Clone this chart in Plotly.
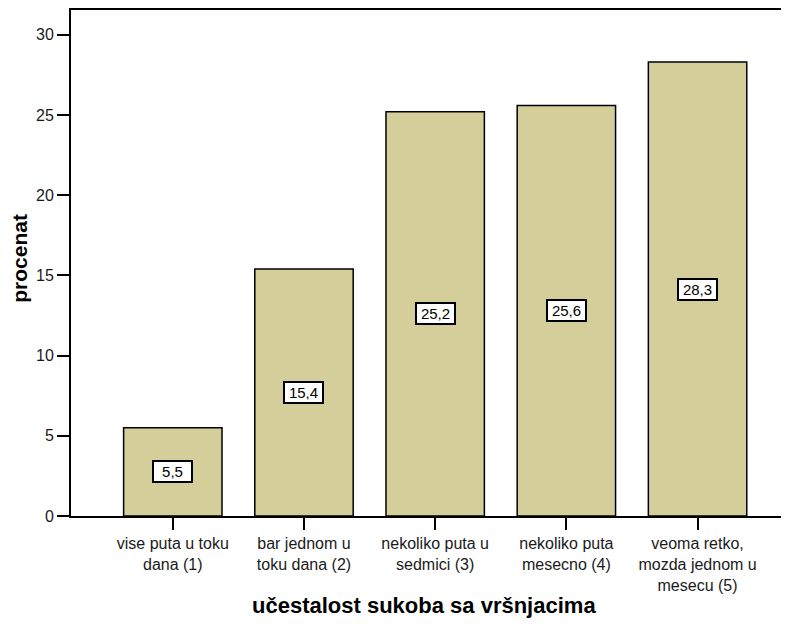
import plotly.graph_objects as go

categories = [
    "vise puta u toku<br>dana (1)",
    "bar jednom u<br>toku dana (2)",
    "nekoliko puta u<br>sedmici (3)",
    "nekoliko puta<br>mesecno (4)",
    "veoma retko,<br>mozda jednom u<br>mesecu (5)",
]
values = [5.5, 15.4, 25.2, 25.6, 28.3]
value_labels = ["5,5", "15,4", "25,2", "25,6", "28,3"]
y_ticks = [0, 5, 10, 15, 20, 25, 30]

x_idx = list(range(len(categories)))
BAR = "#D3CE9A"
FONT = "Liberation Sans, Arial, sans-serif"

# page body has an 8px default margin; figure is sized/offset to compensate
W, H = 781, 616
ML, MT, MR, MB = 63, 0, 0, 107.5

fig = go.Figure()
fig.add_trace(go.Bar(
    x=x_idx, y=values,
    marker=dict(color=BAR, line=dict(color="black", width=1.5)),
    width=0.75,
    showlegend=False,
))

for xi, v, lab in zip(x_idx, values, value_labels):
    fig.add_annotation(
        x=xi, y=v / 2, xref="x", yref="y", text=lab, showarrow=False,
        font=dict(family=FONT, size=15, color="black"),
        bgcolor="white", bordercolor="black", borderwidth=2, borderpad=2.5,
        width=32, height=14,
    )

fig.update_layout(
    width=W, height=H,
    margin=dict(l=ML, r=MR, t=MT, b=MB),
    paper_bgcolor="white", plot_bgcolor="white",
    font=dict(family=FONT, color="black"),
    bargap=0.25,
    xaxis=dict(
        range=[-0.776, 4.697], tickmode="array", tickvals=x_idx, ticktext=categories,
        showline=True, linecolor="black", linewidth=2, mirror=True,
        ticks="outside", ticklen=12, tickwidth=1.5, tickcolor="black",
        showgrid=False, zeroline=False,
        tickfont=dict(family=FONT, size=16, color="#1a1a1a"),
    ),
    yaxis=dict(
        range=[0, 31.55], tickmode="array", tickvals=y_ticks,
        showline=True, linecolor="black", linewidth=2,
        ticks="outside", ticklen=12, tickwidth=1.5, tickcolor="black",
        showgrid=False, zeroline=False,
        tickfont=dict(family=FONT, size=16, color="#1a1a1a"),
    ),
)

pw = W - ML - MR
ph = H - MT - MB


def to_paper(px, py):
    # px, py are window pixel coordinates (including 8px body margin)
    return (px - 8 - ML) / pw, (H - MB - (py - 8)) / ph


x1, y1 = to_paper(20, 258)
fig.add_annotation(
    x=x1, y=y1, xref="paper", yref="paper", text="<b>procenat</b>", showarrow=False,
    textangle=-90, xanchor="center", yanchor="middle",
    font=dict(family=FONT, size=21, color="black"),
)
x2, y2 = to_paper(424, 606)
fig.add_annotation(
    x=x2, y=y2, xref="paper", yref="paper", text="<b>učestalost sukoba sa vršnjacima</b>",
    showarrow=False, xanchor="center", yanchor="middle",
    font=dict(family=FONT, size=22, color="black"),
)

fig.write_html("out.html")
